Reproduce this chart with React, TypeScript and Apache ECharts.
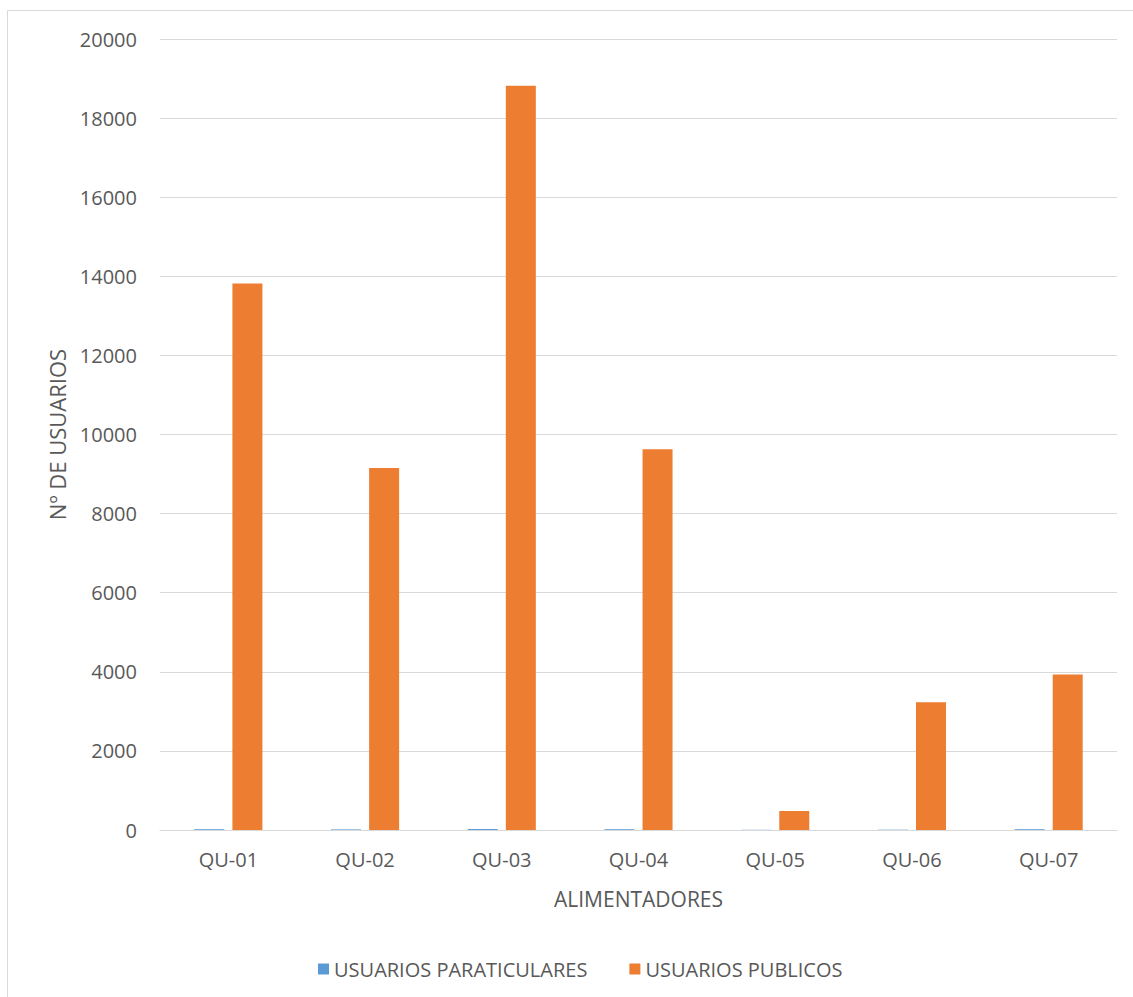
import React, { useEffect, useRef } from "react";
import * as echarts from "echarts";

const categories = ["QU-01", "QU-02", "QU-03", "QU-04", "QU-05", "QU-06", "QU-07"];
const particulares = [20, 15, 25, 20, 5, 8, 20];
const publicos = [13820, 9150, 18820, 9630, 480, 3230, 3930];
const yTicks = { min: 0, max: 20000, interval: 2000 };

const FONT = "'Open Sans', sans-serif";
const TEXT = "#595959";

export default function App() {
  const ref = useRef<HTMLDivElement>(null);
  useEffect(() => {
    if (!ref.current) return;
    const chart = echarts.init(ref.current, undefined, { renderer: "svg" });
    chart.setOption({
      animation: false,
      backgroundColor: "#ffffff",
      textStyle: { fontFamily: FONT, color: TEXT },
      graphic: [
        {
          type: "rect",
          shape: { x: 7.5, y: 10.5, width: 1140, height: 1000 },
          style: { fill: "none", stroke: "#D9D9D9", lineWidth: 1 },
          silent: true,
        },
      ],
      grid: { left: 160, right: 16, top: 39, bottom: 167 },
      legend: {
        left: 313,
        top: 954,
        itemWidth: 11,
        itemHeight: 11,
        itemGap: 42,
        icon: "rect",
        textStyle: { fontFamily: FONT, fontSize: 20, color: TEXT },
        data: ["USUARIOS PARATICULARES", "USUARIOS PUBLICOS"],
      },
      xAxis: {
        type: "category",
        data: categories,
        name: "ALIMENTADORES",
        nameLocation: "middle",
        nameGap: 58,
        nameTextStyle: { fontFamily: FONT, fontSize: 21, color: TEXT },
        axisLine: { lineStyle: { color: "#D9D9D9", width: 1 } },
        axisTick: { show: false },
        axisLabel: { fontFamily: FONT, fontSize: 20, color: TEXT, margin: 19 },
      },
      yAxis: {
        type: "value",
        min: yTicks.min,
        max: yTicks.max,
        interval: yTicks.interval,
        name: "Nº DE USUARIOS",
        nameLocation: "middle",
        nameGap: 92,
        nameTextStyle: { fontFamily: FONT, fontSize: 22, color: TEXT },
        axisLine: { show: false },
        axisTick: { show: false },
        axisLabel: {
          fontFamily: FONT,
          fontSize: 20,
          color: TEXT,
          margin: 23,
          formatter: (v: number) => String(v),
        },
        splitLine: { lineStyle: { color: "#D9D9D9", width: 1 } },
      },
      series: [
        {
          name: "USUARIOS PARATICULARES",
          type: "bar",
          data: particulares,
          barWidth: 30,
          barGap: "27%",
          itemStyle: { color: "#5B9BD5" },
        },
        {
          name: "USUARIOS PUBLICOS",
          type: "bar",
          data: publicos,
          barWidth: 30,
          barGap: "27%",
          itemStyle: { color: "#ED7D31" },
        },
      ],
    });
    return () => chart.dispose();
  }, []);
  return (
    <div
      ref={ref}
      style={{ position: "absolute", left: 0, top: 0, width: 1133, height: 997 }}
    />
  );
}
